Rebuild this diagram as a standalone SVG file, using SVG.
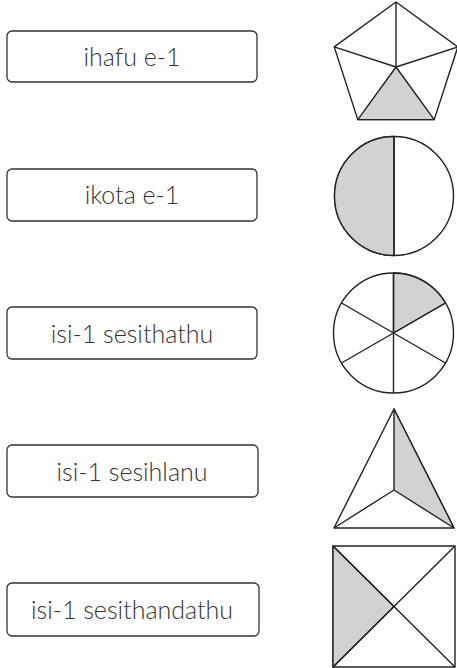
<svg xmlns="http://www.w3.org/2000/svg" width="457" height="668" viewBox="0 0 457 668">
<style>
.box{fill:#fff;stroke:#333;stroke-width:1.3}
.lbl{font-family:Lato,"Open Sans","Liberation Sans",sans-serif;font-size:25px;font-weight:300;fill:#333;text-anchor:middle}
.sh{fill:#fff;stroke:#222;stroke-width:1.4;stroke-linejoin:round}
.fill{fill:#d1d2d4;stroke:#222;stroke-width:1.4;stroke-linejoin:round}
.ln{stroke:#222;stroke-width:1.4;fill:none}
</style>
<rect width="457" height="668" fill="#fff"/>
<g id="label1"><rect class="box" x="7" y="31" width="250" height="51" rx="5"/><text class="lbl" x="132" y="65.5">ihafu e-1</text></g>
<g id="label2"><rect class="box" x="7" y="169" width="250" height="52" rx="5"/><text class="lbl" x="132" y="204">ikota e-1</text></g>
<g id="label3"><rect class="box" x="7" y="307" width="250" height="52" rx="5"/><text class="lbl" x="132" y="342.5">isi-1 sesithathu</text></g>
<g id="label4"><rect class="box" x="7" y="445" width="251" height="52" rx="5"/><text class="lbl" x="132" y="480.5">isi-1 sesihlanu</text></g>
<g id="label5"><rect class="box" x="7" y="583" width="252" height="53" rx="5"/><text class="lbl" x="132" y="618.5">isi-1 sesithandathu</text></g>

<g id="pentagon">
<polygon class="sh" points="396,2 457.8,46.9 434.2,119.6 357.8,119.6 334.2,46.9"/>
<polygon class="fill" points="396,67 434.2,119.6 357.8,119.6"/>
<path class="ln" d="M396,67 L396,2 M396,67 L457.8,46.9 M396,67 L334.2,46.9"/>
</g>

<g id="circle-half">
<circle class="sh" cx="394" cy="196" r="59.5"/>
<path class="fill" d="M394,136.5 A59.5,59.5 0 0 0 394,255.5 Z"/>
<line class="ln" x1="394" y1="136.5" x2="394" y2="255.5"/>
</g>

<g id="circle-sixths">
<circle class="sh" cx="393.5" cy="333" r="60"/>
<path class="fill" d="M393.5,333 L393.5,273 A60,60 0 0 1 445.5,303 Z"/>
<path class="ln" d="M393.5,273 L393.5,393 M341.5,303 L445.5,363 M341.5,363 L445.5,303"/>
</g>

<g id="triangle">
<polygon class="sh" points="394,409 454,528 334,528"/>
<polygon class="fill" points="394,409 454,528 394,490"/>
<path class="ln" d="M394,490 L334,528"/>
</g>

<g id="square">
<rect class="sh" x="333" y="546" width="122" height="121"/>
<polygon class="fill" points="333,546 394,606.5 333,667"/>
<path class="ln" d="M333,546 L455,667 M333,667 L455,546"/>
</g>
</svg>
